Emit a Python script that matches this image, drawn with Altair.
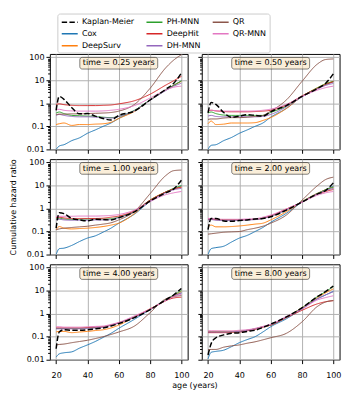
import altair as alt
import pandas as pd

AGES = [20, 22, 25, 30, 35, 40, 45, 50, 55, 60, 70, 80, 90, 95, 100]
TIMES = ["0.25", "0.50", "1.00", "2.00", "4.00", "8.00"]

KAPLAN_MEIER = [
    [0.5, 2.0, 1.5, 0.65, 0.35, 0.36, 0.28, 0.22, 0.19, 0.3, 0.46, 1.4, 4.1, 7.3, 21],
    [0.39, 1.1, 0.9, 0.4, 0.25, 0.28, 0.32, 0.3, 0.28, 0.43, 0.8, 2.0, 4.5, 7.3, 19],
    [0.14, 0.65, 0.6, 0.37, 0.32, 0.29, 0.34, 0.33, 0.32, 0.4, 0.72, 2.1, 4.8, 7, 17],
    [0.12, 0.37, 0.37, 0.29, 0.28, 0.3, 0.32, 0.35, 0.37, 0.44, 0.85, 1.9, 4.3, 6, 13],
    [0.03, 0.16, 0.2, 0.19, 0.19, 0.2, 0.22, 0.24, 0.29, 0.37, 0.67, 1.5, 4, 6.5, 12.5],
    [0.016, 0.05, 0.09, 0.12, 0.14, 0.15, 0.17, 0.19, 0.25, 0.35, 0.72, 1.8, 5.6, 9, 16],
]
COX = [
    [0.01, 0.014, 0.016, 0.024, 0.032, 0.05, 0.07, 0.1, 0.14, 0.22, 0.48, 1.4, 3.8, 6, 9.5],
    [0.01, 0.015, 0.016, 0.024, 0.033, 0.05, 0.07, 0.1, 0.14, 0.25, 0.6, 2.0, 4.5, 6.5, 8.6],
    [0.01, 0.018, 0.019, 0.025, 0.037, 0.052, 0.065, 0.094, 0.14, 0.23, 0.57, 2.06, 5.2, 7, 9.5],
    [0.01, 0.018, 0.02, 0.023, 0.035, 0.052, 0.068, 0.1, 0.15, 0.25, 0.62, 1.9, 4.3, 6.5, 9.5],
    [0.013, 0.018, 0.02, 0.022, 0.032, 0.044, 0.062, 0.093, 0.14, 0.23, 0.57, 1.53, 4, 6, 8],
    [0.011, 0.021, 0.023, 0.026, 0.037, 0.055, 0.075, 0.1, 0.16, 0.27, 0.6, 1.6, 4.5, 6.5, 9.3],
]
DEEPSURV = [
    [0.12, 0.13, 0.14, 0.11, 0.12, 0.12, 0.125, 0.13, 0.15, 0.22, 0.45, 1.4, 3.8, 6, 9],
    [0.13, 0.17, 0.12, 0.125, 0.14, 0.14, 0.14, 0.145, 0.18, 0.24, 0.6, 2.0, 4.8, 7, 9],
    [0.12, 0.165, 0.14, 0.13, 0.135, 0.14, 0.15, 0.165, 0.19, 0.23, 0.6, 2.3, 5.2, 7, 8.5],
    [0.16, 0.19, 0.16, 0.16, 0.165, 0.175, 0.19, 0.21, 0.23, 0.32, 0.72, 2.0, 4.6, 6.5, 8.5],
    [0.16, 0.17, 0.17, 0.15, 0.16, 0.17, 0.185, 0.2, 0.24, 0.32, 0.72, 1.6, 3.7, 6, 9],
    [0.17, 0.17, 0.17, 0.17, 0.17, 0.175, 0.19, 0.22, 0.27, 0.32, 0.72, 1.8, 5, 8, 12],
]
PH_MNN = [
    [0.38, 0.42, 0.36, 0.3, 0.29, 0.28, 0.27, 0.25, 0.24, 0.27, 0.5, 1.4, 3.8, 6, 9.5],
    [0.39, 0.42, 0.36, 0.31, 0.3, 0.3, 0.3, 0.3, 0.3, 0.4, 0.75, 2.0, 4.8, 7, 9],
    [0.35, 0.38, 0.35, 0.33, 0.34, 0.35, 0.35, 0.35, 0.36, 0.42, 0.75, 2.3, 5.2, 7.5, 10],
    [0.34, 0.36, 0.33, 0.32, 0.32, 0.32, 0.33, 0.34, 0.38, 0.47, 0.9, 2.0, 4.6, 6.5, 8.5],
    [0.23, 0.23, 0.23, 0.23, 0.23, 0.24, 0.25, 0.27, 0.32, 0.4, 0.72, 1.5, 4, 6.5, 10],
    [0.16, 0.16, 0.16, 0.16, 0.16, 0.17, 0.19, 0.22, 0.27, 0.32, 0.72, 1.8, 5.6, 9, 15],
]
DEEPHIT = [
    [0.9, 0.95, 0.88, 0.82, 0.8, 0.8, 0.8, 0.82, 0.85, 0.95, 1.3, 2.5, 6.2, 9.5, 15],
    [0.46, 0.5, 0.47, 0.44, 0.43, 0.43, 0.43, 0.44, 0.46, 0.5, 0.85, 2.1, 4.5, 6.5, 8.7],
    [0.4, 0.42, 0.39, 0.37, 0.37, 0.37, 0.37, 0.38, 0.42, 0.47, 0.8, 2.3, 5.2, 7, 8.5],
    [0.34, 0.35, 0.33, 0.32, 0.32, 0.32, 0.33, 0.34, 0.38, 0.48, 0.95, 1.9, 4.3, 5.5, 6.7],
    [0.24, 0.24, 0.24, 0.24, 0.24, 0.25, 0.26, 0.27, 0.32, 0.4, 0.72, 1.6, 3.7, 4.8, 5.2],
    [0.15, 0.15, 0.15, 0.15, 0.155, 0.16, 0.18, 0.21, 0.26, 0.32, 0.67, 1.4, 2.7, 3.3, 3.7],
]
DH_MNN = [
    [0.3, 0.33, 0.3, 0.27, 0.26, 0.26, 0.25, 0.24, 0.23, 0.27, 0.48, 1.35, 3.6, 5.5, 7.5],
    [0.28, 0.3, 0.27, 0.26, 0.26, 0.26, 0.26, 0.26, 0.27, 0.33, 0.7, 1.9, 4.3, 6, 7.3],
    [0.32, 0.34, 0.32, 0.31, 0.31, 0.31, 0.32, 0.32, 0.33, 0.4, 0.72, 2.1, 4.8, 6.5, 7.5],
    [0.32, 0.33, 0.31, 0.3, 0.3, 0.31, 0.32, 0.33, 0.37, 0.45, 0.88, 1.95, 4.4, 6, 7.5],
    [0.22, 0.22, 0.22, 0.22, 0.22, 0.23, 0.24, 0.26, 0.31, 0.39, 0.7, 1.5, 3.8, 5.8, 8],
    [0.16, 0.16, 0.16, 0.16, 0.165, 0.17, 0.19, 0.22, 0.27, 0.33, 0.72, 1.7, 4.5, 6.5, 9],
]
QR = [
    [0.32, 0.34, 0.34, 0.35, 0.35, 0.36, 0.37, 0.38, 0.4, 0.46, 0.9, 4.5, 35, 75, 130],
    [0.2, 0.21, 0.21, 0.23, 0.24, 0.24, 0.25, 0.27, 0.3, 0.46, 1.4, 9, 52, 80, 85],
    [0.12, 0.13, 0.14, 0.15, 0.16, 0.17, 0.19, 0.21, 0.24, 0.32, 0.75, 4.4, 27, 44, 47],
    [0.077, 0.08, 0.085, 0.093, 0.097, 0.1, 0.12, 0.14, 0.17, 0.23, 0.52, 2.3, 10, 18, 23],
    [0.044, 0.046, 0.048, 0.055, 0.062, 0.07, 0.083, 0.1, 0.125, 0.16, 0.29, 1.1, 4.4, 5.5, 6.1],
    [0.027, 0.028, 0.028, 0.035, 0.04, 0.044, 0.052, 0.06, 0.073, 0.09, 0.14, 0.44, 2.1, 3.2, 3.7],
]
QR_MNN = [
    [0.55, 0.55, 0.5, 0.47, 0.46, 0.46, 0.46, 0.47, 0.5, 0.55, 0.8, 1.7, 3.8, 5, 5.6],
    [0.5, 0.5, 0.48, 0.46, 0.46, 0.46, 0.46, 0.47, 0.5, 0.56, 0.9, 2.0, 3.8, 4.8, 5.6],
    [0.44, 0.46, 0.46, 0.46, 0.47, 0.47, 0.47, 0.48, 0.5, 0.55, 0.85, 2.0, 4.0, 4.8, 5.5],
    [0.37, 0.37, 0.35, 0.34, 0.34, 0.34, 0.35, 0.36, 0.42, 0.52, 0.95, 1.9, 3.8, 4.8, 5.5],
    [0.27, 0.27, 0.26, 0.26, 0.26, 0.27, 0.28, 0.29, 0.34, 0.42, 0.8, 1.6, 3.7, 5.5, 7],
    [0.18, 0.18, 0.18, 0.18, 0.18, 0.19, 0.2, 0.23, 0.28, 0.35, 0.76, 1.6, 4, 5, 6],
]

SERIES = {
    "Cox": COX,
    "DeepSurv": DEEPSURV,
    "PH-MNN": PH_MNN,
    "DeepHit": DEEPHIT,
    "DH-MNN": DH_MNN,
    "QR": QR,
    "QR-MNN": QR_MNN,
    "Kaplan-Meier": KAPLAN_MEIER,
}
COLORS = {
    "Kaplan-Meier": "black",
    "Cox": "#1f77b4",
    "DeepSurv": "#ff7f0e",
    "PH-MNN": "#2ca02c",
    "DeepHit": "#d62728",
    "DH-MNN": "#9467bd",
    "QR": "#8c564b",
    "QR-MNN": "#e377c2",
}
LEGEND_ORDER = ["Kaplan-Meier", "Cox", "DeepSurv", "PH-MNN", "DeepHit", "DH-MNN", "QR", "QR-MNN"]
LEGEND_COLORS = [COLORS[m] for m in LEGEND_ORDER]
LEGEND_DASH = [[5.5, 2.4] if m == "Kaplan-Meier" else [1, 0] for m in LEGEND_ORDER]

MAJOR = [0.01, 0.1, 1, 10, 100]
MINOR = [round(k * 10.0 ** e, 6) for e in (-2, -1, 0, 1) for k in range(2, 10)]
MAJOR_TEST = "indexof([0.01, 0.1, 1, 10, 100], datum.value) >= 0"

rows = []
for model, arr in SERIES.items():
    for ti, t in enumerate(TIMES):
        for a, v in zip(AGES, arr[ti]):
            rows.append({"time": t, "model": model, "age": a, "value": v})
df = pd.DataFrame(rows)

W, H = 141.5, 98
FS = 8.2

legend = alt.Legend(
    title=None, orient="none", legendX=7.7, legendY=-41.5, columns=3,
    symbolType="M-2.05,0H2.05", symbolSize=64, symbolStrokeWidth=1.5, symbolOffset=4.2,
    labelFontSize=FS, labelOffset=7.5, columnPadding=9, rowPadding=3.3,
    padding=3.5, strokeColor="#cccccc", fillColor="white", cornerRadius=2.5,
    labelColor="black", labelLimit=200,
)

xscale = alt.Scale(domain=[16, 104], nice=False, zero=False)
yscale = alt.Scale(type="log", domain=[0.01, 140], nice=False)

panels = []
for i, t in enumerate(TIMES):
    r, c = divmod(i, 2)
    d = df[df["time"] == t]
    xkw = dict(values=[20, 40, 60, 80, 100], labels=(r == 2), tickSize=4, labelPadding=8,
               grid=True, format="d", labelFlush=False)
    if i == 4:
        xaxis = alt.Axis(title="age (years)", titleX=W + 7, titleAlign="center",
                         titlePadding=3, **xkw)
    else:
        xaxis = alt.Axis(title=None, **xkw)
    ykw = dict(values=MAJOR + MINOR, labels=(c == 0), format="~g",
               labelExpr=f"{MAJOR_TEST} ? datum.label : ''",
               tickSize={"condition": {"test": MAJOR_TEST, "value": 4}, "value": 2.3},
               gridOpacity={"condition": {"test": MAJOR_TEST, "value": 1}, "value": 0},
               labelOverlap=False, labelFlush=False, labelPadding=2)
    if i == 2:
        yaxis = alt.Axis(title="Cumulative hazard ratio", titlePadding=9, **ykw)
    else:
        yaxis = alt.Axis(title=None, **ykw)

    lines = alt.Chart(d).mark_line(interpolate="monotone", clip=True).encode(
        x=alt.X("age:Q", scale=xscale, axis=xaxis),
        y=alt.Y("value:Q", scale=yscale, axis=yaxis),
        color=alt.Color("model:N", scale=alt.Scale(domain=LEGEND_ORDER, range=LEGEND_COLORS),
                        legend=legend),
        strokeDash=alt.StrokeDash("model:N", scale=alt.Scale(domain=LEGEND_ORDER, range=LEGEND_DASH),
                                  legend=legend),
        strokeWidth=alt.condition(alt.datum.model == "Kaplan-Meier", alt.value(1.5), alt.value(1.0)),
    )
    lab = pd.DataFrame({"label": [f"time = {t} years"]})
    box = alt.Chart(lab).mark_rect(
        cornerRadius=2.5, fill="wheat", fillOpacity=0.5, stroke="black", strokeOpacity=0.5, strokeWidth=1
    ).encode(x=alt.value(W / 2 - 40), x2=alt.value(W / 2 + 40), y=alt.value(3.5), y2=alt.value(15.5))
    txt = alt.Chart(lab).mark_text(fontSize=FS, align="center", baseline="middle", color="black").encode(
        x=alt.value(W / 2), y=alt.value(9.7), text="label:N"
    )
    panels.append(alt.layer(lines, box, txt).properties(width=W, height=H))

chart = alt.concat(
    *panels, columns=2, spacing={"row": 10, "column": 14}, bounds="flush"
).properties(padding=0).configure(font="DejaVu Sans").configure_view(
    stroke="black", strokeWidth=1
).configure_axis(
    domain=False, tickColor="black", tickWidth=1, labelColor="black", labelFontSize=FS,
    titleFontSize=FS, titleFontWeight="normal", titleColor="black",
    gridColor="#b0b0b0", gridWidth=1,
)

chart.save("out.html", embed_options={"renderer": "svg", "actions": False})
